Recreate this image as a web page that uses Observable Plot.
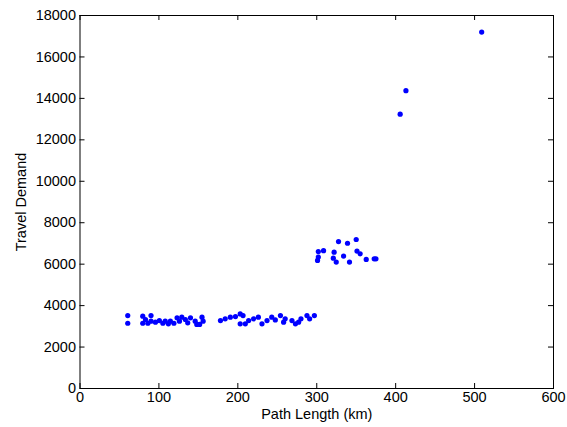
<!DOCTYPE html>
<html>
<head>
<meta charset="utf-8">
<script src="https://cdn.jsdelivr.net/npm/d3@7"></script>
<script src="https://cdn.jsdelivr.net/npm/@observablehq/plot@0.6"></script>
<style>
  html, body { margin: 0; padding: 0; background: white; }
</style>
</head>
<body>
<div id="chart"></div>
<script>
const pathLength = [
  60.5, 60.5, 79.5, 79.5, 83, 86, 90, 90, 95.6, 100.6, 105, 108, 112, 114.5, 119, 123, 126, 129, 133.5, 136.5, 140, 146, 148, 151.6, 154.6, 156,
  178, 184, 190.5, 197, 203, 206.6, 203, 209.5, 213.7, 220, 226, 230.6, 237, 243, 247.5, 254, 258, 260, 268.6, 273, 277, 280, 287.6, 291, 297,
  302, 308.6, 302, 301, 322, 321, 324.7, 327.6, 334, 339, 341.5, 350, 351, 355, 362.7, 372.8, 375,
  405.7, 413, 509
];
const travelDemand = [
  3520, 3150, 3490, 3150, 3330, 3150, 3520, 3250, 3200, 3280, 3150, 3250, 3120, 3250, 3150, 3410, 3250, 3440, 3330, 3170, 3410, 3250, 3090, 3090, 3440, 3250,
  3280, 3360, 3440, 3470, 3600, 3520, 3120, 3120, 3280, 3360, 3440, 3120, 3280, 3440, 3310, 3520, 3200, 3360, 3280, 3120, 3200, 3360, 3520, 3360, 3520,
  6610, 6650, 6340, 6180, 6580, 6290, 6100, 7090, 6390, 7010, 6100, 7190, 6630, 6500, 6230, 6260, 6260,
  13240, 14370, 17200
];
const xTicks = [0, 100, 200, 300, 400, 500, 600];
const yTicks = [0, 2000, 4000, 6000, 8000, 10000, 12000, 14000, 16000, 18000];
const xLabel = "Path Length (km)";
const yLabel = "Travel Demand";

const points = pathLength.map((x, i) => ({x, y: travelDemand[i]}));

const W = 567, H = 427;
const mL = 79.5, mR = 14, mT = 15, mB = 39;
const tickPx = 5;
const yTickLen = 18000 * tickPx / (H - mT - mB);
const xTickLen = 600 * tickPx / (W - mL - mR);

const chart = Plot.plot({
  width: W,
  height: H,
  marginLeft: mL,
  marginRight: mR,
  marginTop: mT,
  marginBottom: mB,
  style: {fontFamily: "'Liberation Sans', Arial, sans-serif", fontSize: "14.5px", background: "white", color: "black"},
  x: {domain: [0, 600]},
  y: {domain: [0, 18000]},
  marks: [
    Plot.axisX(xTicks, {tickSize: 0, tickPadding: 3, label: null, tickFormat: d => String(d)}),
    Plot.axisY(yTicks, {tickSize: 0, tickPadding: 4, label: null, tickFormat: d => String(d)}),
    Plot.ruleX(xTicks, {x: d => d, y1: 0, y2: yTickLen, stroke: "black"}),
    Plot.ruleX(xTicks, {x: d => d, y1: 18000, y2: 18000 - yTickLen, stroke: "black"}),
    Plot.ruleY(yTicks, {y: d => d, x1: 0, x2: xTickLen, stroke: "black"}),
    Plot.ruleY(yTicks, {y: d => d, x1: 600, x2: 600 - xTickLen, stroke: "black"}),
    Plot.frame({stroke: "black"}),
    Plot.dot(points, {x: "x", y: "y", r: 2.6, fill: "#0000ff", stroke: "none"}),
    Plot.text([xLabel], {frameAnchor: "bottom", dy: 26, text: d => d, textAnchor: "middle", lineAnchor: "middle"}),
    Plot.text([yLabel], {frameAnchor: "left", dx: -59, text: d => d, rotate: -90, textAnchor: "middle", lineAnchor: "middle"})
  ]
});
document.getElementById("chart").appendChild(chart);
</script>
</body>
</html>
